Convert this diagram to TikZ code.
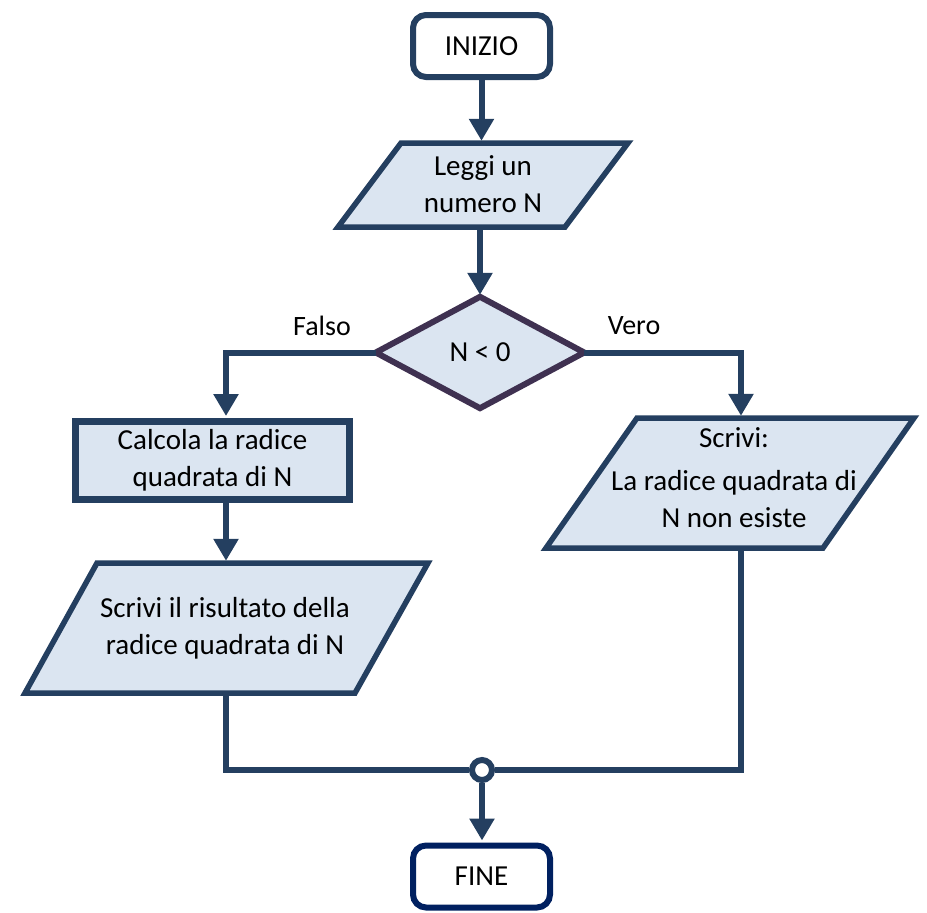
\documentclass[tikz,border=0pt]{standalone}
\usepackage{fontspec}
\setmainfont{Carlito}
\usetikzlibrary{arrows.meta}
\definecolor{ln}{HTML}{243F60}
\definecolor{fl}{HTML}{DBE5F1}
\definecolor{dia}{HTML}{3F3151}
\definecolor{nav}{HTML}{002060}
\begin{document}
\begin{tikzpicture}[x=1pt,y=-1pt,
  txt/.style={font=\fontsize{29}{37}\selectfont, align=center, text=black},
  term/.style={txt, draw=ln, line width=6pt, fill=white, rounded corners=13pt, minimum width=137pt, minimum height=62pt, inner sep=0pt},
  area/.style={txt, inner sep=0pt},
  shp/.style={draw=ln, line width=5.5pt, fill=fl, line join=miter},
  flow/.style={draw=ln, line width=6pt, -{Triangle[length=22pt,width=24pt]}, shorten >=2pt},
  wire/.style={draw=ln, line width=6pt},
  lbl/.style={font=\fontsize{28}{30}\selectfont, text=black}
]
\useasboundingbox (0,0) rectangle (927,913);
% start
\node[term] (start) at (481.5,46) {INIZIO};
% input
\node[area, minimum width=227pt, minimum height=84pt] (p1) at (483,185) {};
\draw[shp] (401,143) -- (628,143) -- (565,227) -- (338,227) -- cycle;
\node[txt] (p1t) at (483,184) {Leggi un\\numero N};
% decision
\node[area, minimum width=208pt, minimum height=111pt] (d) at (480,352.5) {};
\draw[shp, draw=dia, line width=6pt] (d.north) -- (d.east) -- (d.south) -- (d.west) -- cycle;
\node[txt] (dt) at (480,352) {N < 0};
\node[lbl] (falso) at (322,326) {Falso};
\node[lbl] (vero) at (634,326) {Vero};
% process
\node[txt, draw=ln, line width=7pt, fill=fl, minimum width=274pt, minimum height=78pt, inner sep=0pt] (c) at (212.5,460.5) {Calcola la radice\\quadrata di N};
% output left
\node[area, minimum width=331pt, minimum height=130pt] (p2) at (226,628) {};
\draw[shp] (97,563) -- (428,563) -- (355,693) -- (25,693) -- cycle;
\node[txt] (p2t) at (225,628) {Scrivi il risultato della\\radice quadrata di N};
% output right
\node[area, minimum width=277pt, minimum height=130pt] (p3) at (730,483) {};
\draw[shp] (637,418) -- (914,418) -- (823,548) -- (546,548) -- cycle;
\node[txt] (p3t) at (734,478) {Scrivi:\\[6pt]La radice quadrata di\\N non esiste};
% junction and end
\node[circle, draw=ln, line width=6pt, fill=white, minimum size=20pt, inner sep=0pt] (j) at (482,770) {};
\node[term, draw=nav] (end) at (481.5,876.5) {FINE};
\coordinate (xl) at (226,0);
\coordinate (xr) at (741,0);
% connectors
\draw[flow] (start.south) -- (p1.north -| start.south);
\draw[flow] (p1.south -| d.north) -- (d.north);
\draw[flow] (d.west) -| (xl |- c.north);
\draw[flow] (d.east) -| (xr |- p3.north);
\draw[flow] (xl |- c.south) -- (xl |- p2.north);
\draw[wire] (xl |- p2.south) |- (j.west);
\draw[wire] (xr |- p3.south) |- (j.east);
\draw[flow] (j.south) -- (end.north -| j.south);
\end{tikzpicture}
\end{document}
